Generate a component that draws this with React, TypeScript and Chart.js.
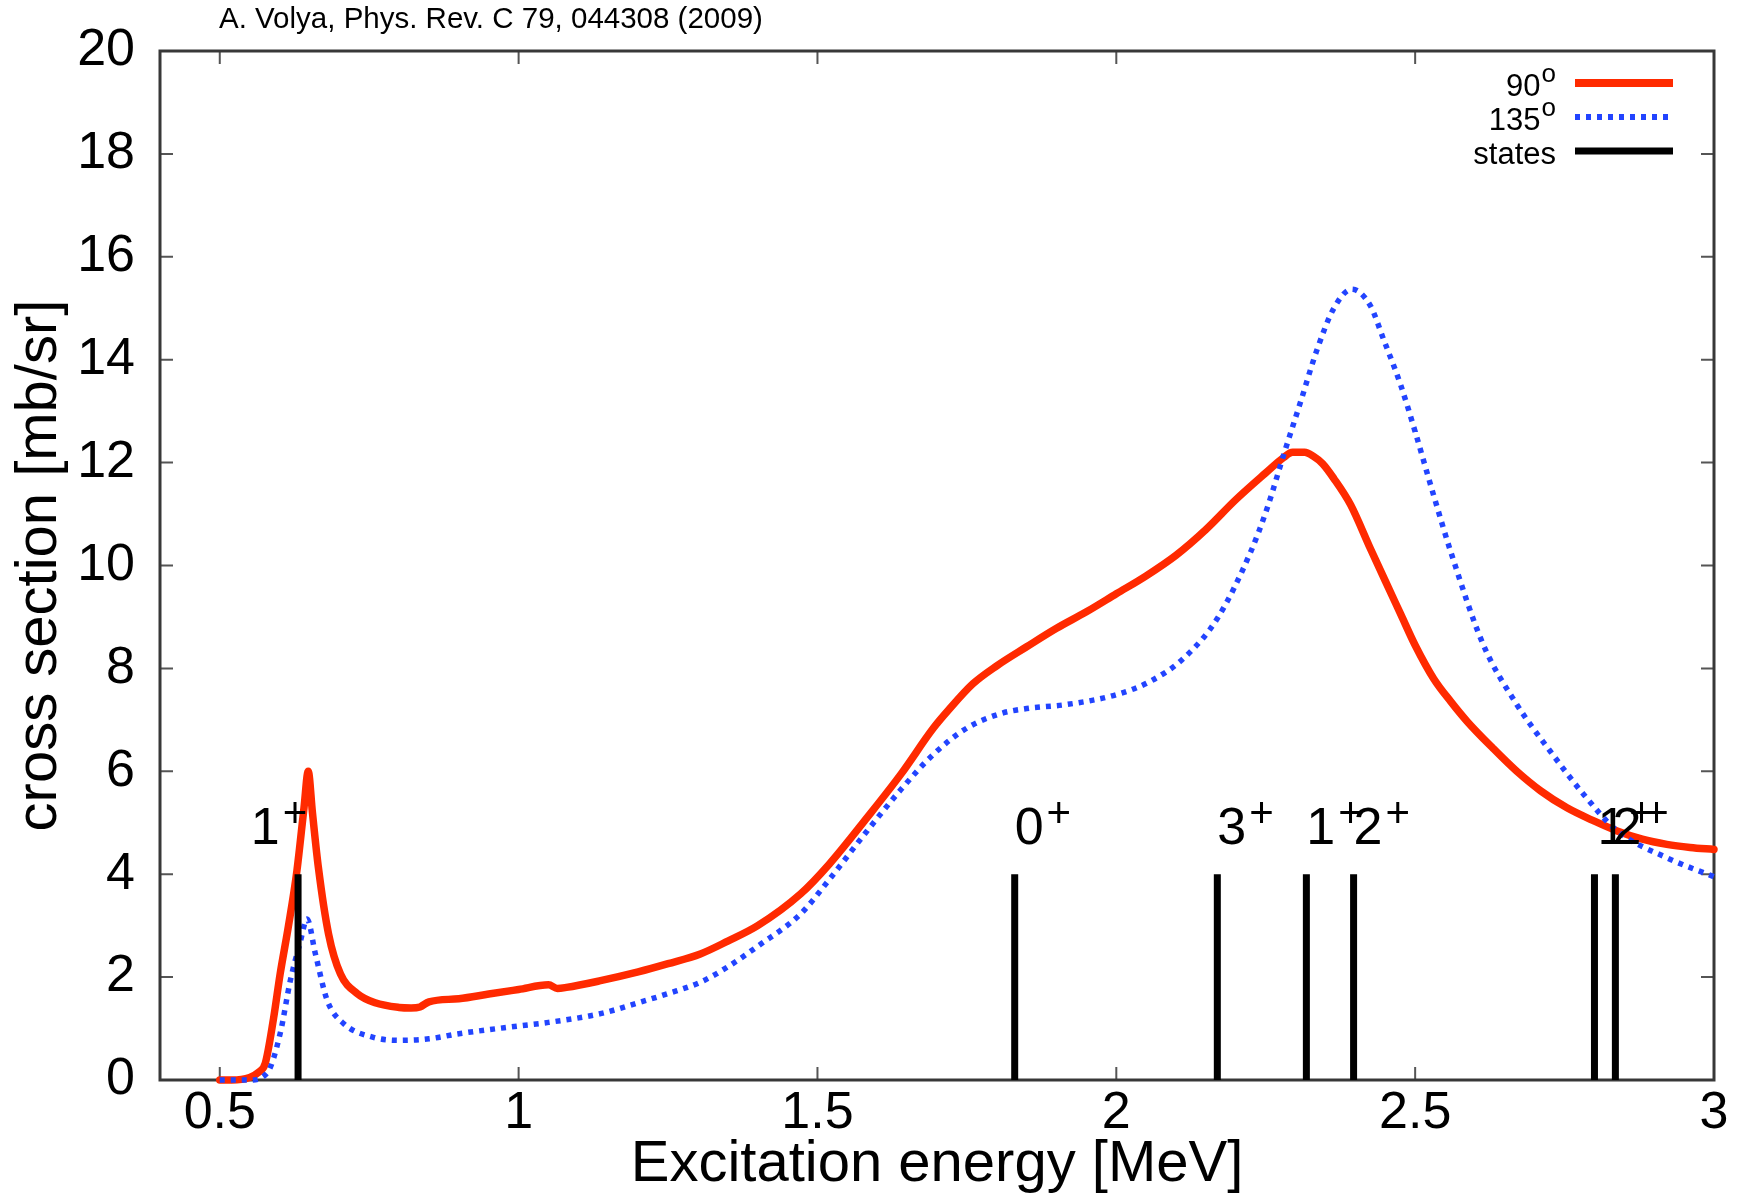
import React, { useEffect, useRef } from "react";
import { Chart, registerables } from "chart.js";

Chart.register(...registerables);

// ---------- data ----------
const energy90 = [
  0.5, 0.52, 0.55, 0.565, 0.576, 0.59, 0.601, 0.615, 0.629, 0.641, 0.648, 0.655, 0.665, 0.682, 0.702, 0.73,
  0.76, 0.8, 0.82, 0.835, 0.85, 0.9, 0.95, 1.0, 1.05, 1.065, 1.08, 1.137, 1.2, 1.25, 1.304, 1.35, 1.4,
  1.472, 1.52, 1.583, 1.64, 1.694, 1.72, 1.76, 1.8, 1.85, 1.9, 1.95, 2.0, 2.05, 2.1, 2.15, 2.2, 2.25,
  2.28, 2.295, 2.315, 2.33, 2.345, 2.364, 2.392, 2.425, 2.45, 2.476, 2.5, 2.531, 2.56, 2.587, 2.63,
  2.67, 2.71, 2.754, 2.8, 2.838, 2.88, 2.921, 2.96, 3.0,
];
const sigma90 = [
  0.0, 0.0, 0.05, 0.15, 0.32, 1.2, 2.06, 3.0, 4.06, 5.3, 6.0, 5.2, 4.13, 2.84, 2.06, 1.68,
  1.5, 1.41, 1.4, 1.42, 1.52, 1.58, 1.67, 1.76, 1.85, 1.78, 1.8, 1.93, 2.1, 2.26, 2.45, 2.7, 3.0,
  3.62, 4.2, 5.1, 5.95, 6.84, 7.2, 7.7, 8.05, 8.42, 8.78, 9.1, 9.45, 9.8, 10.2, 10.7, 11.28, 11.8,
  12.1, 12.2, 12.2, 12.12, 11.98, 11.69, 11.18, 10.33, 9.7, 9.05, 8.45, 7.8, 7.35, 6.97, 6.45,
  6.0, 5.62, 5.29, 5.03, 4.84, 4.68, 4.58, 4.52, 4.48,
];
const energy135 = [
  0.5, 0.55, 0.58, 0.601, 0.618, 0.635, 0.646, 0.66, 0.68, 0.707, 0.757, 0.8, 0.85, 0.9, 1.0, 1.05,
  1.137, 1.2, 1.25, 1.304, 1.35, 1.4, 1.472, 1.52, 1.583, 1.64, 1.694, 1.75, 1.806, 1.85, 1.918, 2.0,
  2.057, 2.113, 2.169, 2.225, 2.252, 2.28, 2.308, 2.336, 2.364, 2.394, 2.425, 2.447, 2.476, 2.5, 2.53,
  2.56, 2.614, 2.67, 2.726, 2.782, 2.838, 2.921, 3.0,
];
const sigma135 = [
  0.0, 0.0, 0.15, 0.9, 1.93, 2.7, 3.13, 2.45, 1.54, 1.1, 0.83, 0.77, 0.8, 0.9, 1.05, 1.12,
  1.29, 1.5, 1.68, 1.9, 2.2, 2.6, 3.23, 3.9, 4.84, 5.65, 6.33, 6.84, 7.12, 7.22, 7.3, 7.49,
  7.75, 8.2, 8.97, 10.27, 11.1, 12.15, 13.17, 14.2, 15.0, 15.37, 15.05, 14.4, 13.5, 12.6, 11.4,
  10.25, 8.46, 7.3, 6.39, 5.55, 4.84, 4.32, 3.95,
];

const stateEnergies = [0.631, 1.83, 2.169, 2.318, 2.397, 2.8, 2.835];
const stateHeight = 4;
const stateSpins = ["1", "0", "3", "1", "2", "1", "2"];
const stateParity = "+";
const stateLabelX = [0.552, 1.83, 2.169, 2.318, 2.397, 2.805, 2.83];
const stateLabelY = 4.58;

const xTicks = [0.5, 1, 1.5, 2, 2.5, 3];
const yTicks = [0, 2, 4, 6, 8, 10, 12, 14, 16, 18, 20];

const legendNames = ["90", "135", "states"];
const legendSup = ["o", "o", ""];

const sourceNote = "A. Volya, Phys. Rev. C 79, 044308 (2009)";
const xTitle = "Excitation energy [MeV]";
const yTitle = "cross section [mb/sr]";

// ---------- styles ----------
const FONT = '"Liberation Sans", Arial, Helvetica, sans-serif';
const RED = "#ff2a00";
const BLUE = "#2244ff";
const BLACK = "#000000";

const overlayPlugin = {
  id: "gnuplotOverlay",
  beforeDatasetsDraw(chart: any) {
    const { ctx, chartArea, scales } = chart;
    const { left, right, top, bottom } = chartArea;
    const xs = scales.x;
    const ys = scales.y;
    ctx.save();
    // inward ticks
    ctx.strokeStyle = "#555555";
    ctx.lineWidth = 2;
    ctx.beginPath();
    xTicks.forEach((t) => {
      const px = xs.getPixelForValue(t);
      ctx.moveTo(px, bottom);
      ctx.lineTo(px, bottom - 13);
      ctx.moveTo(px, top);
      ctx.lineTo(px, top + 13);
    });
    yTicks.forEach((t) => {
      const py = ys.getPixelForValue(t);
      ctx.moveTo(left, py);
      ctx.lineTo(left + 13, py);
      ctx.moveTo(right, py);
      ctx.lineTo(right - 13, py);
    });
    ctx.stroke();
    // frame
    ctx.strokeStyle = "#383838";
    ctx.lineWidth = 3;
    ctx.strokeRect(left, top, right - left, bottom - top);
    ctx.restore();
  },
  afterDatasetsDraw(chart: any) {
    const { ctx, chartArea, scales } = chart;
    const { right, top } = chartArea;
    const xs = scales.x;
    const ys = scales.y;
    ctx.save();
    ctx.fillStyle = "#000";
    ctx.textAlign = "left";
    ctx.textBaseline = "alphabetic";

    // state labels
    stateSpins.forEach((spin, i) => {
      const px = xs.getPixelForValue(stateLabelX[i]);
      const py = ys.getPixelForValue(stateLabelY);
      ctx.font = `52px ${FONT}`;
      ctx.fillText(spin, px, py);
      const w = ctx.measureText(spin).width;
      ctx.font = `42px ${FONT}`;
      ctx.fillText(stateParity, px + w + 3, py - 17);
    });

    // legend
    const ds = chart.data.datasets;
    legendNames.forEach((name, i) => {
      const yb = top + 45 + 34 * i;
      const textRight = right - 158;
      ctx.font = `26px ${FONT}`;
      const supW = legendSup[i] ? ctx.measureText(legendSup[i]).width + 1 : 0;
      const mainRight = textRight - supW;
      ctx.font = `31px ${FONT}`;
      ctx.textAlign = "right";
      ctx.fillText(name, mainRight, yb);
      if (legendSup[i]) {
        ctx.font = `26px ${FONT}`;
        ctx.textAlign = "left";
        ctx.fillText(legendSup[i], mainRight + 1, yb - 14);
      }
      const d = ds[i];
      ctx.strokeStyle = d.borderColor;
      ctx.lineWidth = d.legendWidth;
      ctx.setLineDash(d.borderDash || []);
      ctx.lineCap = "butt";
      ctx.beginPath();
      ctx.moveTo(right - 139, yb - 13);
      ctx.lineTo(right - 41, yb - 13);
      ctx.stroke();
      ctx.setLineDash([]);
    });

    // source note
    ctx.textAlign = "left";
    ctx.font = `29.5px ${FONT}`;
    ctx.fillText(sourceNote, 219, 28);
    ctx.restore();
  },
};

export default function App() {
  const ref = useRef<HTMLCanvasElement>(null);

  useEffect(() => {
    const canvas = ref.current;
    if (!canvas) return;

    const redData = energy90.map((e, i) => ({ x: e, y: sigma90[i] }));
    const blueData = energy135.map((e, i) => ({ x: e, y: sigma135[i] }));
    const stateData = stateEnergies.flatMap((e) => [
      { x: e, y: 0 },
      { x: e, y: stateHeight },
      { x: e, y: null },
    ]);

    const chart = new Chart(canvas, {
      type: "line",
      data: {
        datasets: [
          {
            label: "90°",
            data: redData,
            borderColor: RED,
            borderWidth: 7.5,
            legendWidth: 8,
            pointRadius: 0,
            cubicInterpolationMode: "monotone",
            borderJoinStyle: "round",
            borderCapStyle: "round",
            clip: false,
            order: 3,
          } as any,
          {
            label: "135°",
            data: blueData,
            borderColor: BLUE,
            borderWidth: 5.5,
            legendWidth: 6,
            borderDash: [5, 6],
            pointRadius: 0,
            cubicInterpolationMode: "monotone",
            borderCapStyle: "butt",
            clip: false,
            order: 2,
          } as any,
          {
            label: "states",
            data: stateData,
            borderColor: BLACK,
            borderWidth: 7,
            legendWidth: 7,
            pointRadius: 0,
            tension: 0,
            spanGaps: false,
            borderCapStyle: "butt",
            clip: false,
            order: 1,
          } as any,
        ],
      },
      options: {
        animation: false,
        responsive: false,
        devicePixelRatio: 1,
        parsing: true,
        layout: { padding: { left: 0, right: 31, top: 48, bottom: 0 } },
        plugins: {
          legend: { display: false },
          tooltip: { enabled: false },
          title: { display: false },
        },
        scales: {
          x: {
            type: "linear",
            min: 0.4,
            max: 3.0,
            grid: { display: false, drawTicks: false },
            border: { display: false },
            afterBuildTicks: (scale: any) => {
              scale.ticks = xTicks.map((v) => ({ value: v }));
            },
            afterFit: (scale: any) => {
              scale.height = 117;
            },
            ticks: {
              autoSkip: false,
              maxRotation: 0,
              minRotation: 0,
              padding: 8,
              color: "#000",
              font: { family: FONT, size: 52, lineHeight: 1 },
              callback: (v: any) => String(v),
            },
            title: {
              display: true,
              text: xTitle,
              color: "#000",
              font: { family: FONT, size: 58, lineHeight: 1 },
              padding: { top: 0, bottom: 3 },
            },
          },
          y: {
            type: "linear",
            min: 0,
            max: 20,
            grid: { display: false, drawTicks: false },
            border: { display: false },
            afterBuildTicks: (scale: any) => {
              scale.ticks = yTicks.map((v) => ({ value: v }));
            },
            afterFit: (scale: any) => {
              scale.width = 160;
            },
            ticks: {
              autoSkip: false,
              padding: 25,
              color: "#000",
              font: { family: FONT, size: 52, lineHeight: 1 },
              callback: (v: any) => String(v),
            },
            title: {
              display: true,
              text: yTitle,
              color: "#000",
              font: { family: FONT, size: 58, lineHeight: 1 },
              padding: { top: 11, bottom: 0 },
            },
          },
        },
      } as any,
      plugins: [overlayPlugin],
    });

    return () => chart.destroy();
  }, []);

  return (
    <div
      style={{
        position: "fixed",
        left: 0,
        top: 0,
        width: 1745,
        height: 1197,
        background: "#ffffff",
      }}
    >
      <canvas
        ref={ref}
        width={1745}
        height={1197}
        style={{ display: "block", width: 1745, height: 1197 }}
      />
    </div>
  );
}
